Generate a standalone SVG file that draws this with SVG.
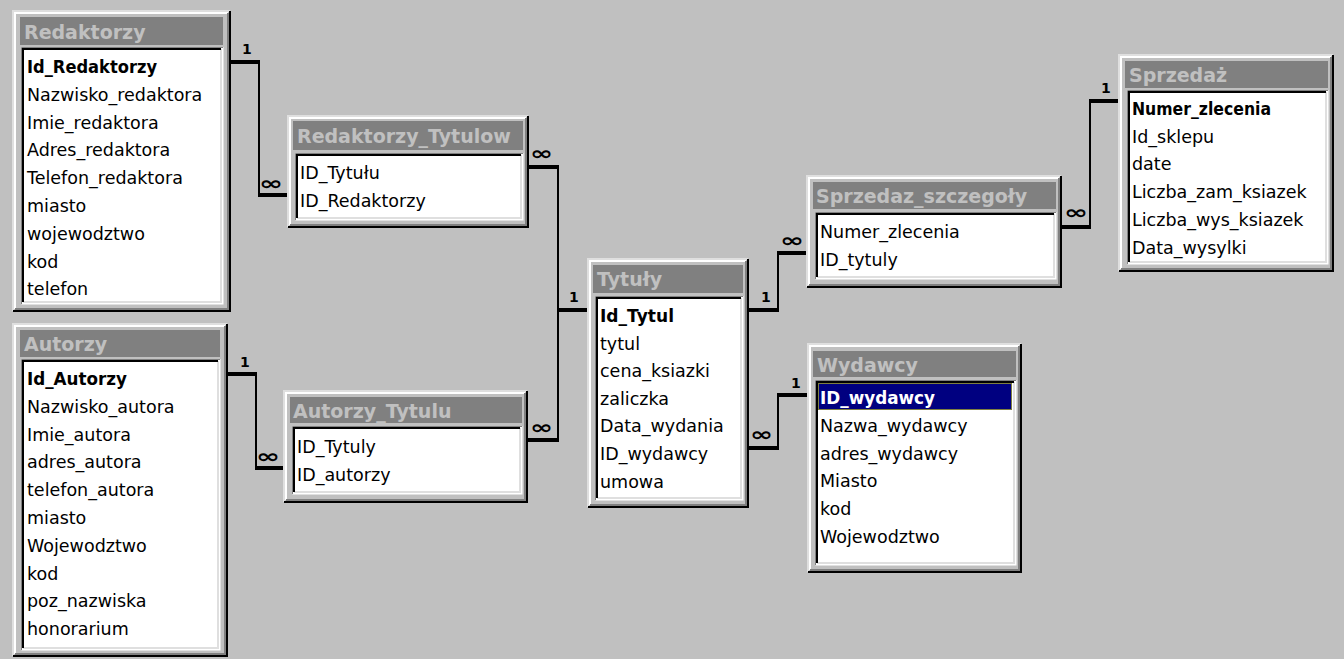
<svg xmlns="http://www.w3.org/2000/svg" width="1344" height="659" viewBox="0 0 1344 659">
<style>
.bg{fill:#c0c0c0}
.fr{fill:#c0c0c0}
.l1{fill:none;stroke:#dfdfdf;stroke-width:2}
.l2{fill:none;stroke:#ffffff;stroke-width:2}
.d1{fill:none;stroke:#000000;stroke-width:2}
.d2{fill:none;stroke:#808080;stroke-width:2}
.s1{fill:none;stroke:#808080;stroke-width:1}
.bar{fill:#808080}
.lst{fill:#ffffff}
.ttl{font-family:"DejaVu Sans",sans-serif;font-weight:bold;font-size:19px;fill:#c0c0c0}
.f{font-family:"DejaVu Sans",sans-serif;font-size:17.5px;fill:#000000}
.k{font-weight:bold}
.c{fill:none;stroke:#000000;stroke-width:2}
.ct{fill:none;stroke:#000000;stroke-width:4}
.one{font-family:"DejaVu Sans",sans-serif;font-weight:bold;font-size:14px;fill:#000000}
.inf{font-family:"DejaVu Sans",sans-serif;font-weight:bold;font-size:19px;fill:#000000}
</style>
<rect class="bg" x="0" y="0" width="1344" height="659"/>

<g id="connectors">
  <!-- Redaktorzy - Redaktorzy_Tytulow -->
  <path class="ct" d="M231 62H260"/>
  <path class="c" d="M259 62V195"/>
  <path class="ct" d="M258 195H287"/>
  <text class="one" x="242" y="54">1</text>
  <text class="inf" x="259" y="190" textLength="24" lengthAdjust="spacingAndGlyphs">∞</text>
  <!-- Autorzy - Autorzy_Tytulu -->
  <path class="ct" d="M228 374H257"/>
  <path class="c" d="M256 374V468"/>
  <path class="ct" d="M255 468H283"/>
  <text class="one" x="240" y="367">1</text>
  <text class="inf" x="256" y="463" textLength="24" lengthAdjust="spacingAndGlyphs">∞</text>
  <!-- Redaktorzy_Tytulow - Tytuly -->
  <path class="ct" d="M529 167H559"/>
  <path class="c" d="M558 167V440"/>
  <path class="ct" d="M557 310H587"/>
  <text class="inf" x="530" y="160" textLength="23" lengthAdjust="spacingAndGlyphs">∞</text>
  <text class="one" x="569" y="302">1</text>
  <!-- Autorzy_Tytulu - Tytuly -->
  <path class="ct" d="M528 440H559"/>
  <text class="inf" x="530" y="434" textLength="23" lengthAdjust="spacingAndGlyphs">∞</text>
  <!-- Tytuly - Sprzedaz_szczegoly -->
  <path class="ct" d="M749 310H779"/>
  <path class="c" d="M778 310V253"/>
  <path class="ct" d="M777 253H806"/>
  <text class="one" x="761" y="302">1</text>
  <text class="inf" x="780" y="247" textLength="24" lengthAdjust="spacingAndGlyphs">∞</text>
  <!-- Sprzedaz_szczegoly - Sprzedaz -->
  <path class="ct" d="M1062 227H1091"/>
  <path class="c" d="M1090 227V101"/>
  <path class="ct" d="M1089 101H1118"/>
  <text class="inf" x="1064" y="219" textLength="24" lengthAdjust="spacingAndGlyphs">∞</text>
  <text class="one" x="1101" y="93">1</text>
  <!-- Tytuly - Wydawcy -->
  <path class="ct" d="M749 448H779"/>
  <path class="c" d="M778 448V395"/>
  <path class="ct" d="M777 395H807"/>
  <text class="inf" x="750" y="441" textLength="23" lengthAdjust="spacingAndGlyphs">∞</text>
  <text class="one" x="791" y="388">1</text>
</g>

<g id="Redaktorzy">
  <rect class="fr" x="12" y="10" width="219" height="302"/>
  <path class="l1" d="M13 311V11H230"/>
  <path class="l2" d="M15 309V13H228"/>
  <path class="d2" d="M15 309H228V13"/>
  <path class="d1" d="M13 311H230V11"/>
  <rect class="bar" x="20" y="17" width="203" height="28"/>
  <text class="ttl" x="24" y="39">Redaktorzy</text>
  <rect class="lst" x="21" y="47" width="202" height="257"/>
  <path class="l2" d="M21.5 303.5H222.5V47"/>
  <path class="l1" d="M23 302H221V49"/>
  <path class="s1" d="M21.5 304V47.5H223"/>
  <path class="d1" d="M23 302V49H221"/>
  <text class="f k" x="27" y="73" textLength="130" lengthAdjust="spacingAndGlyphs">Id_Redaktorzy</text>
  <text class="f" x="27" y="100.8">Nazwisko_redaktora</text>
  <text class="f" x="27" y="128.6">Imie_redaktora</text>
  <text class="f" x="27" y="156.4">Adres_redaktora</text>
  <text class="f" x="27" y="184.2">Telefon_redaktora</text>
  <text class="f" x="27" y="212">miasto</text>
  <text class="f" x="27" y="239.8">wojewodztwo</text>
  <text class="f" x="27" y="267.6">kod</text>
  <text class="f" x="27" y="295.4">telefon</text>
</g>

<g id="Autorzy">
  <rect class="fr" x="12" y="323" width="216" height="334"/>
  <path class="l1" d="M13 656V324H227"/>
  <path class="l2" d="M15 654V326H225"/>
  <path class="d2" d="M15 654H225V326"/>
  <path class="d1" d="M13 656H227V324"/>
  <rect class="bar" x="20" y="330" width="200" height="27"/>
  <text class="ttl" x="24" y="351">Autorzy</text>
  <rect class="lst" x="21" y="359" width="199" height="291"/>
  <path class="l2" d="M21.5 649.5H219.5V359"/>
  <path class="l1" d="M23 648H218V361"/>
  <path class="s1" d="M21.5 650V359.5H220"/>
  <path class="d1" d="M23 648V361H218"/>
  <text class="f k" x="27" y="385" textLength="100" lengthAdjust="spacingAndGlyphs">Id_Autorzy</text>
  <text class="f" x="27" y="412.8">Nazwisko_autora</text>
  <text class="f" x="27" y="440.6">Imie_autora</text>
  <text class="f" x="27" y="468.4">adres_autora</text>
  <text class="f" x="27" y="496.2">telefon_autora</text>
  <text class="f" x="27" y="524">miasto</text>
  <text class="f" x="27" y="551.8">Wojewodztwo</text>
  <text class="f" x="27" y="579.6">kod</text>
  <text class="f" x="27" y="607.4">poz_nazwiska</text>
  <text class="f" x="27" y="635.2">honorarium</text>
</g>

<g id="Redaktorzy_Tytulow">
  <rect class="fr" x="287" y="115" width="242" height="113"/>
  <path class="l1" d="M288 227V116H528"/>
  <path class="l2" d="M290 225V118H526"/>
  <path class="d2" d="M290 225H526V118"/>
  <path class="d1" d="M288 227H528V116"/>
  <rect class="bar" x="293" y="121" width="230" height="29"/>
  <text class="ttl" x="297" y="143">Redaktorzy_Tytulow</text>
  <rect class="lst" x="295" y="153" width="228" height="67"/>
  <path class="l2" d="M295.5 219.5H522.5V153"/>
  <path class="l1" d="M297 218H521V155"/>
  <path class="s1" d="M295.5 220V153.5H523"/>
  <path class="d1" d="M297 218V155H521"/>
  <text class="f" x="300" y="179">ID_Tytułu</text>
  <text class="f" x="300" y="207">ID_Redaktorzy</text>
</g>

<g id="Autorzy_Tytulu">
  <rect class="fr" x="283" y="390" width="245" height="113"/>
  <path class="l1" d="M284 502V391H527"/>
  <path class="l2" d="M286 500V393H525"/>
  <path class="d2" d="M286 500H525V393"/>
  <path class="d1" d="M284 502H527V391"/>
  <rect class="bar" x="290" y="397" width="232" height="26"/>
  <text class="ttl" x="293" y="418">Autorzy_Tytulu</text>
  <rect class="lst" x="292" y="426" width="230" height="68"/>
  <path class="l2" d="M292.5 493.5H521.5V426"/>
  <path class="l1" d="M294 492H520V428"/>
  <path class="s1" d="M292.5 494V426.5H522"/>
  <path class="d1" d="M294 492V428H520"/>
  <text class="f" x="297" y="453">ID_Tytuly</text>
  <text class="f" x="297" y="481">ID_autorzy</text>
</g>

<g id="Tytuly">
  <rect class="fr" x="587" y="258" width="162" height="250"/>
  <path class="l1" d="M588 507V259H748"/>
  <path class="l2" d="M590 505V261H746"/>
  <path class="d2" d="M590 505H746V261"/>
  <path class="d1" d="M588 507H748V259"/>
  <rect class="bar" x="593" y="265" width="150" height="28"/>
  <text class="ttl" x="597" y="286">Tytuły</text>
  <rect class="lst" x="595" y="296" width="148" height="204"/>
  <path class="l2" d="M595.5 499.5H742.5V296"/>
  <path class="l1" d="M597 498H741V298"/>
  <path class="s1" d="M595.5 500V296.5H743"/>
  <path class="d1" d="M597 498V298H741"/>
  <text class="f k" x="600" y="322" textLength="74" lengthAdjust="spacingAndGlyphs">Id_Tytul</text>
  <text class="f" x="600" y="349.6">tytul</text>
  <text class="f" x="600" y="377.2">cena_ksiazki</text>
  <text class="f" x="600" y="404.8">zaliczka</text>
  <text class="f" x="600" y="432.4">Data_wydania</text>
  <text class="f" x="600" y="460">ID_wydawcy</text>
  <text class="f" x="600" y="487.6">umowa</text>
</g>

<g id="Wydawcy">
  <rect class="fr" x="807" y="343" width="215" height="230"/>
  <path class="l1" d="M808 572V344H1021"/>
  <path class="l2" d="M810 570V346H1019"/>
  <path class="d2" d="M810 570H1019V346"/>
  <path class="d1" d="M808 572H1021V344"/>
  <rect class="bar" x="813" y="351" width="203" height="26"/>
  <text class="ttl" x="817" y="372">Wydawcy</text>
  <rect class="lst" x="815" y="380" width="201" height="185"/>
  <path class="l2" d="M815.5 564.5H1015.5V380"/>
  <path class="l1" d="M817 563H1014V382"/>
  <path class="s1" d="M815.5 565V380.5H1016"/>
  <path class="d1" d="M817 563V382H1014"/>
  <rect x="818" y="383" width="194" height="27" fill="#000080"/>
  <rect x="818.5" y="383.5" width="193" height="26" fill="none" stroke="#ffff00" stroke-width="1" stroke-dasharray="1 1"/>
  <text class="f k" x="820" y="404" style="fill:#ffffff" textLength="115" lengthAdjust="spacingAndGlyphs">ID_wydawcy</text>
  <text class="f" x="820" y="431.8">Nazwa_wydawcy</text>
  <text class="f" x="820" y="459.6">adres_wydawcy</text>
  <text class="f" x="820" y="487.4">Miasto</text>
  <text class="f" x="820" y="515.2">kod</text>
  <text class="f" x="820" y="543">Wojewodztwo</text>
</g>

<g id="Sprzedaz_szczegoly">
  <rect class="fr" x="806" y="175" width="256" height="113"/>
  <path class="l1" d="M807 287V176H1061"/>
  <path class="l2" d="M809 285V178H1059"/>
  <path class="d2" d="M809 285H1059V178"/>
  <path class="d1" d="M807 287H1061V176"/>
  <rect class="bar" x="813" y="182" width="243" height="27"/>
  <text class="ttl" x="816" y="203">Sprzedaz_szczegoły</text>
  <rect class="lst" x="815" y="212" width="241" height="67"/>
  <path class="l2" d="M815.5 278.5H1055.5V212"/>
  <path class="l1" d="M817 277H1054V214"/>
  <path class="s1" d="M815.5 279V212.5H1056"/>
  <path class="d1" d="M817 277V214H1054"/>
  <text class="f" x="820" y="238">Numer_zlecenia</text>
  <text class="f" x="820" y="266">ID_tytuly</text>
</g>

<g id="Sprzedaz">
  <rect class="fr" x="1118" y="54" width="216" height="218"/>
  <path class="l1" d="M1119 271V55H1333"/>
  <path class="l2" d="M1121 269V57H1331"/>
  <path class="d2" d="M1121 269H1331V57"/>
  <path class="d1" d="M1119 271H1333V55"/>
  <rect class="bar" x="1125" y="61" width="203" height="27"/>
  <text class="ttl" x="1129" y="82">Sprzedaż</text>
  <rect class="lst" x="1127" y="90" width="201" height="174"/>
  <path class="l2" d="M1127.5 263.5H1327.5V90"/>
  <path class="l1" d="M1129 262H1326V92"/>
  <path class="s1" d="M1127.5 264V90.5H1328"/>
  <path class="d1" d="M1129 262V92H1326"/>
  <text class="f k" x="1132" y="115" textLength="139" lengthAdjust="spacingAndGlyphs">Numer_zlecenia</text>
  <text class="f" x="1132" y="142.7">Id_sklepu</text>
  <text class="f" x="1132" y="170.4">date</text>
  <text class="f" x="1132" y="198.1">Liczba_zam_ksiazek</text>
  <text class="f" x="1132" y="225.8">Liczba_wys_ksiazek</text>
  <text class="f" x="1132" y="253.5">Data_wysylki</text>
</g>
</svg>
